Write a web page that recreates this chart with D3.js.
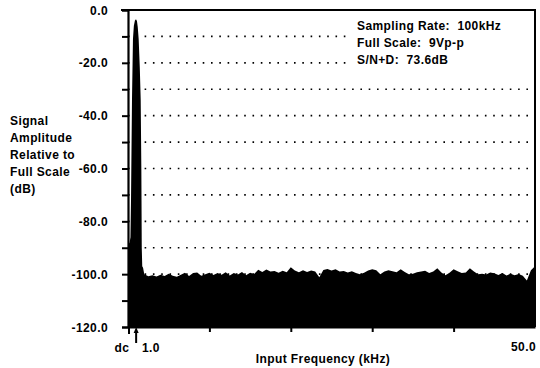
<!DOCTYPE html>
<html lang="en">
<head>
<meta charset="UTF-8">
<title>FFT plot</title>
<script src="https://cdn.jsdelivr.net/npm/d3@7"></script>
<style>
  body { margin: 0; background: #fff; }
  svg text { font-family: "Liberation Sans", Arial, sans-serif; font-weight: bold; font-size: 12px; fill: #000; letter-spacing: 0.4px; white-space: pre; }
</style>
</head>
<body>
<svg id="chart" width="540" height="368"></svg>
<script>
// main tone skirt (kHz, dB)
var peakFreq = [0.0, 0.2, 0.3, 0.37, 0.49, 0.61, 0.72, 0.85, 0.98, 1.1, 1.2, 1.31, 1.45, 1.56, 1.64, 1.69, 1.75, 1.85];
var peakDb   = [-89, -88, -86, -72, -34, -11, -6, -4, -3.5, -4.2, -6.5, -11, -22, -34, -60, -90, -97, -97.6];

// noise floor envelope (kHz, dB)
var noiseFreq = [2.0, 2.5, 3.0, 3.5, 4.0, 4.5, 5.0, 5.5, 6.0, 6.5, 7.0, 7.5, 8.0, 8.5, 9.0, 9.5,
  10.0, 10.5, 11.0, 11.5, 12.0, 12.5, 13.0, 13.5, 14.0, 14.5, 15.0, 15.5, 16.0, 16.5, 17.0, 17.5,
  18.0, 18.5, 19.0, 19.5, 20.0, 20.5, 21.0, 21.5, 22.0, 22.5, 23.0, 23.5, 24.0, 24.5, 25.0, 25.5,
  26.0, 26.5, 27.0, 27.5, 28.0, 28.5, 29.0, 29.5, 30.0, 30.5, 31.0, 31.5, 32.0, 32.5, 33.0, 33.5,
  34.0, 34.5, 35.0, 35.5, 36.0, 36.5, 37.0, 37.5, 38.0, 38.5, 39.0, 39.5, 40.0, 40.5, 41.0, 41.5,
  42.0, 42.5, 43.0, 43.5, 44.0, 44.5, 45.0, 45.5, 46.0, 46.5, 47.0, 47.5, 48.0, 48.5, 49.0, 49.5, 50.0];
var noiseDb = [-100.0, -100.8, -100.4, -100.9, -100.2, -100.7, -99.8, -100.6, -101.0, -100.2, -99.5, -100.7, -99.6, -99.4, -100.6, -100.0,
  -99.5, -100.3, -99.6, -100.2, -99.3, -100.5, -99.6, -100.1, -99.2, -100.4, -99.5, -99.9, -98.3, -99.2, -98.2, -99.0,
  -98.8, -99.5, -98.7, -99.3, -97.4, -98.6, -99.3, -98.5, -99.2, -98.6, -99.0, -101.2, -98.4, -98.0, -98.6, -98.1,
  -99.0, -98.8, -99.4, -98.9, -99.6, -100.0, -99.5, -98.6, -98.1, -98.5, -100.0, -99.0, -98.5, -98.9, -99.3, -98.1,
  -99.2, -100.0, -99.8, -99.3, -99.0, -98.7, -99.6, -99.0, -97.8, -99.4, -100.4, -99.5, -98.1, -98.9, -99.6, -99.4,
  -97.8, -99.0, -100.0, -99.8, -100.1, -99.4, -99.7, -100.3, -99.6, -100.5, -99.8, -100.4, -99.9, -100.6, -102.4, -98.5, -97.0];

var yMajor = [0, -20, -40, -60, -80, -100, -120];
var yMinor = [-10, -30, -50, -70, -90, -110];
var gridDb = [-10, -20, -30, -40, -50, -60, -70, -80, -90, -100, -110];
var xTicks = [10, 20, 30, 40];

var yTitle = ["Signal", "Amplitude", "Relative to", "Full Scale", "(dB)"];
var notes = ["Sampling Rate:  100kHz", "Full Scale:  9Vp-p", "S/N+D:  73.6dB"];

var svg = d3.select("#chart");
var x = d3.scaleLinear().domain([0, 50]).range([128, 535]);
var y = d3.scaleLinear().domain([0, -120]).range([10, 327]);

// dotted grid
svg.append("g").selectAll("line").data(gridDb).enter().append("line")
  .attr("x1", x(0)).attr("x2", x(50))
  .attr("y1", d => y(d)).attr("y2", d => y(d))
  .attr("stroke", "#000").attr("stroke-width", 1.6)
  .attr("stroke-dasharray", "1.6,6.7");

// legend box covers the grid
svg.append("rect").attr("x", 350).attr("y", 12).attr("width", 183).attr("height", 62).attr("fill", "#fff");
svg.append("g").selectAll("text").data(notes).enter().append("text")
  .attr("x", 357).attr("y", (d, i) => 30 + i * 17.2).text(d => d);

// spectrum
var pts = peakFreq.map((f, i) => ({f: f, db: peakDb[i]}))
  .concat(noiseFreq.map((f, i) => ({f: f, db: noiseDb[i]})));
var area = d3.area()
  .x(d => x(d.f))
  .y0(y(-120))
  .y1(d => y(d.db));
svg.append("path").datum(pts).attr("d", area).attr("fill", "#000");

// frame
svg.append("line").attr("x1", 121).attr("x2", 536).attr("y1", y(0)).attr("y2", y(0))
  .attr("stroke", "#000").attr("stroke-width", 2);
svg.append("line").attr("x1", x(50)).attr("x2", x(50)).attr("y1", y(0)).attr("y2", y(-120))
  .attr("stroke", "#000").attr("stroke-width", 2);

// y axis
var yAxis = d3.axisLeft(y).tickValues(yMajor.concat(yMinor)).tickSize(6).tickFormat("");
var gy = svg.append("g").attr("transform", "translate(" + x(0) + ",0)").call(yAxis);
gy.select(".domain").attr("stroke-width", 2.2);
gy.selectAll(".tick line").attr("stroke-width", 2);
svg.append("g").selectAll("text").data(yMajor).enter().append("text")
  .attr("x", 108).attr("y", d => y(d) + 4.5)
  .attr("text-anchor", "end").text(d => d3.format(".1f")(d).replace("\u2212", "-"));

// x axis
var xAxis = d3.axisBottom(x).tickValues(xTicks).tickSize(5).tickSizeOuter(0).tickFormat("");
var gx = svg.append("g").attr("transform", "translate(0," + y(-120) + ")").call(xAxis);
gx.select(".domain").attr("stroke-width", 2);
gx.selectAll(".tick line").attr("stroke-width", 2);
svg.append("line").attr("x1", x(0) + 1).attr("x2", x(0) + 1).attr("y1", y(-120)).attr("y2", y(-120) + 7)
  .attr("stroke", "#000").attr("stroke-width", 2);

// 1 kHz arrow
svg.append("line").attr("x1", x(1)).attr("x2", x(1)).attr("y1", 343).attr("y2", 332)
  .attr("stroke", "#000").attr("stroke-width", 2);
svg.append("path")
  .attr("d", "M" + (x(1) - 2.5) + ",333L" + x(1) + ",327L" + (x(1) + 2.5) + ",333Z")
  .attr("fill", "#000");

svg.append("text").attr("x", 122).attr("y", 352).attr("text-anchor", "middle").text("dc");
svg.append("text").attr("x", 142).attr("y", 352).text("1.0");
svg.append("text").attr("x", 536).attr("y", 351).attr("text-anchor", "end").text("50.0");
svg.append("text").attr("x", 323).attr("y", 363).attr("text-anchor", "middle").text("Input Frequency (kHz)");

// y title
svg.append("g").selectAll("text").data(yTitle).enter().append("text")
  .attr("x", 10).attr("y", (d, i) => 124.5 + i * 17.2).text(d => d);
</script>
</body>
</html>
